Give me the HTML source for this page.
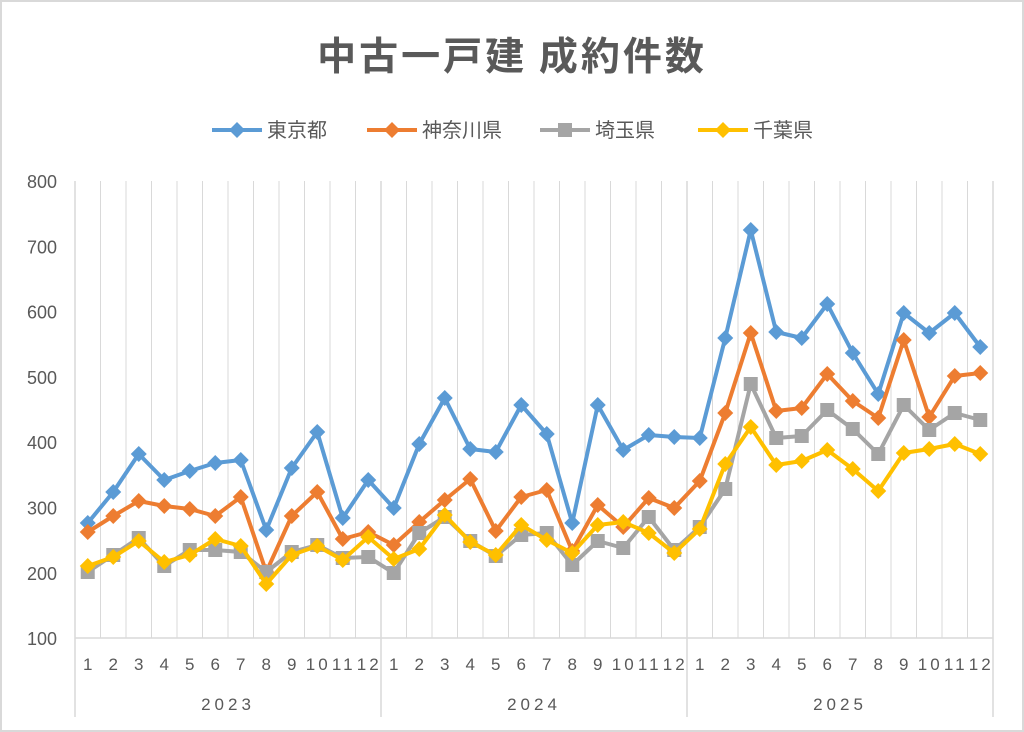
<!DOCTYPE html>
<html><head><meta charset="utf-8"><style>
html,body{margin:0;padding:0;background:#fff}
svg{display:block;font-family:"Liberation Sans","Noto Sans CJK JP",sans-serif}
</style></head><body>
<svg id="c" width="1024" height="732" xmlns="http://www.w3.org/2000/svg">
<rect x="1" y="1" width="1022" height="730" fill="#fff" stroke="#d9d9d9" stroke-width="2"/>
<text x="512" y="70" text-anchor="middle" font-size="39" font-weight="bold" fill="#595959" font-family="'Noto Sans CJK JP',sans-serif" letter-spacing="3">中古一戸建 成約件数</text>
</svg>
<script>
const s=document.getElementById('c');const NS='http://www.w3.org/2000/svg';
function el(t,a,txt){const e=document.createElementNS(NS,t);for(const k in a)e.setAttribute(k,a[k]);if(txt!=null)e.textContent=txt;s.appendChild(e);return e;}
const x0=75,x1=993,w=(x1-x0)/36;
for(let i=1;i<36;i++){const x=x0+w*i;el('line',{x1:x,y1:181,x2:x,y2:638,stroke:'#d9d9d9','stroke-width':1});}
el('line',{x1:x0,y1:638,x2:x1,y2:638,stroke:'#d9d9d9','stroke-width':1.5});
[0,12,24,36].forEach(i=>{const x=x0+w*i;el('line',{x1:x,y1:181,x2:x,y2:717,stroke:'#d9d9d9','stroke-width':1.5});});
for(let v=100;v<=800;v+=100){const y=181+(800-v)*0.653;el('text',{x:57,y:y+7,'text-anchor':'end','font-size':18,fill:'#595959'},v);}
for(let i=0;i<36;i++){const m=i%12+1;el('text',{x:x0+w*(i+0.5)+(m>9?1:0),y:670,'text-anchor':'middle','font-size':17,fill:'#595959','letter-spacing':m>9?3:0},m);}
['2023','2024','2025'].forEach((t,k)=>el('text',{x:x0+w*(12*k+6),y:710,'text-anchor':'middle','font-size':17,fill:'#595959','letter-spacing':4},t));
const data=[
['#5b9bd5','d',[523,492,454,480,471,463,460,530,468,432,518,480,508,444,398,449,452,405,434,523,405,450,435,437,438,338,230,332,338,304,353,394,313,333,313,347]],
['#ed7d31','d',[532,516,501,506,509,516,497,572,516,492,539,532,545,522,500,479,531,497,490,551,505,527,498,508,481,413,333,411,408,374,401,418,340,417,376,373]],
['#a5a5a5','s',[572,555,538,566,550,550,552,572,552,545,558,557,573,533,517,541,556,535,533,565,541,548,517,550,527,489,384,438,436,410,429,454,405,430,413,420]],
['#ffc000','d',[566,557,541,562,555,539,546,584,555,546,560,537,559,549,515,542,555,525,540,553,525,522,533,553,529,464,427,465,461,450,469,491,453,449,444,454]]];
function mk(x,y,c,t){if(t==='s')el('rect',{x:x-7,y:y-7,width:14,height:14,fill:c});else el('polygon',{points:`${x},${y-8} ${x+8},${y} ${x},${y+8} ${x-8},${y}`,fill:c});}
data.forEach(([c,t,ys])=>{el('polyline',{points:ys.map((y,i)=>`${x0+w*(i+0.5)},${y}`).join(' '),fill:'none',stroke:c,'stroke-width':4,'stroke-linejoin':'round'});ys.forEach((y,i)=>mk(x0+w*(i+0.5),y,c,t));});
const lg=[['東京都',212],['神奈川県',367],['埼玉県',540],['千葉県',698]];
lg.forEach(([n,x],k)=>{const c=data[k][0];el('line',{x1:x,y1:130,x2:x+50,y2:130,stroke:c,'stroke-width':4});mk(x+25,130,c,data[k][1]);el('text',{x:x+55,y:137,'font-size':20,fill:'#595959','font-family':"'Noto Sans CJK JP',sans-serif"},n);});
</script>
</body></html>
